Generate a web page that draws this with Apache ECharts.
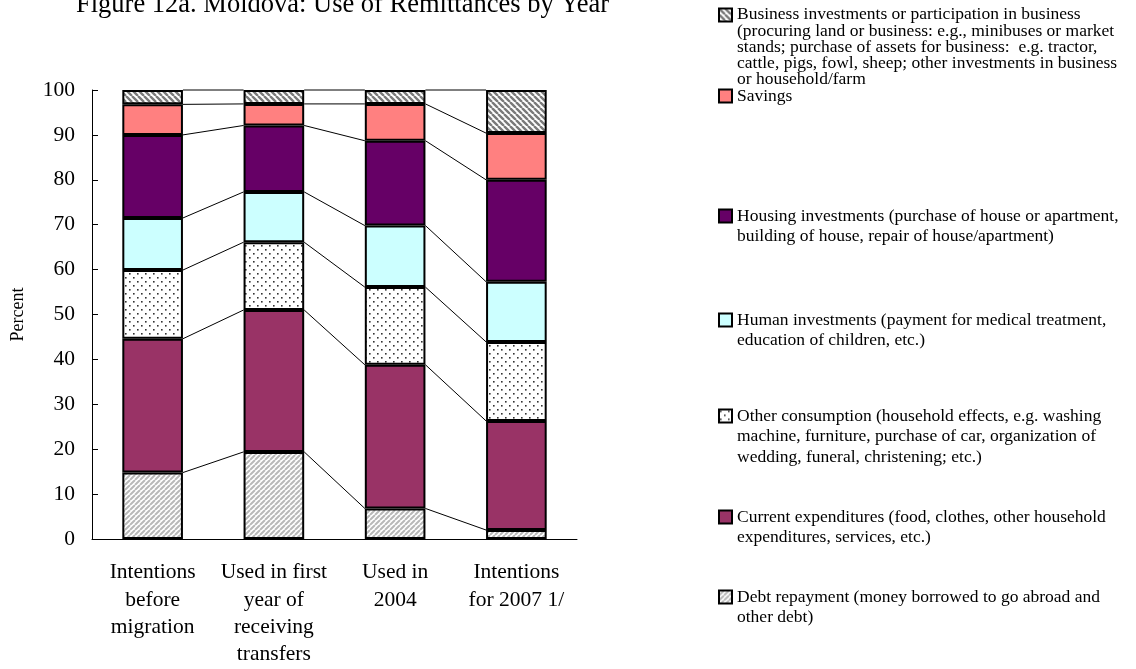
<!DOCTYPE html>
<html>
<head>
<meta charset="utf-8">
<script src="https://cdn.jsdelivr.net/npm/echarts@6/dist/echarts.min.js"></script>
<style>
html,body{margin:0;padding:0;background:#fff;}
#chart{width:1136px;height:669px;}
</style>
</head>
<body>
<div id="chart"></div>
<script>
var categories = ['Intentions\nbefore\nmigration', 'Used in first\nyear of\nreceiving\ntransfers', 'Used in\n2004', 'Intentions\nfor 2007 1/'];
var debt     = [14.8, 19.4, 6.8, 2.0];
var current  = [29.8, 31.6, 32.0, 24.3];
var other    = [15.3, 15.1, 17.3, 17.6];
var human    = [11.6, 11.2, 13.7, 13.4];
var housing  = [18.5, 14.8, 18.9, 22.7];
var savings  = [6.8, 4.8, 8.2, 10.4];
var business = [3.2, 3.1, 3.1, 9.6];
var yTicks = [0, 10, 20, 30, 40, 50, 60, 70, 80, 90, 100];

var names = {
  business: 'Business investments or participation in business\n(procuring land or business: e.g., minibuses or market\nstands; purchase of assets for business:  e.g. tractor,\ncattle, pigs, fowl, sheep; other investments in business\nor household/farm',
  savings: 'Savings',
  housing: 'Housing investments (purchase of house or apartment,\nbuilding of house, repair of house/apartment)',
  human: 'Human investments (payment for medical treatment,\neducation of children, etc.)',
  other: 'Other consumption (household effects, e.g. washing\nmachine, furniture, purchase of car, organization of\nwedding, funeral, christening; etc.)',
  current: 'Current expenditures (food, clothes, other household\nexpenditures, services, etc.)',
  debt: 'Debt repayment (money borrowed to go abroad and\nother debt)'
};

function stripes(size, fg, lw, dir) {
  var c = document.createElement('canvas');
  c.width = size; c.height = size;
  var g = c.getContext('2d');
  g.fillStyle = '#fff'; g.fillRect(0, 0, size, size);
  g.strokeStyle = fg; g.lineWidth = lw;
  g.beginPath();
  for (var k = -1; k <= 1; k++) {
    if (dir === '/') { g.moveTo(k * size, size); g.lineTo(k * size + size, 0); }
    else { g.moveTo(k * size, 0); g.lineTo(k * size + size, size); }
  }
  g.stroke();
  return { image: c, repeat: 'repeat' };
}
function dots() {
  var c = document.createElement('canvas');
  c.width = 8; c.height = 8;
  var g = c.getContext('2d');
  g.fillStyle = '#fff'; g.fillRect(0, 0, 8, 8);
  g.fillStyle = '#333';
  g.fillRect(1, 1, 1.6, 1.6);
  g.fillRect(5, 5, 1.6, 1.6);
  return { image: c, repeat: 'repeat' };
}

var FONT = 'Liberation Serif, Times New Roman, serif';
var seriesDefs = [
  { key: 'debt', data: debt, color: stripes(5, '#b8b8b8', 2, '/') },
  { key: 'current', data: current, color: '#993366' },
  { key: 'other', data: other, color: dots() },
  { key: 'human', data: human, color: '#CCFFFF' },
  { key: 'housing', data: housing, color: '#660066' },
  { key: 'savings', data: savings, color: '#FF8080' },
  { key: 'business', data: business, color: stripes(6, '#7a7a7a', 2.4, '\\') }
];

var series = seriesDefs.map(function (s) {
  return {
    name: names[s.key],
    type: 'bar',
    stack: 'all',
    barWidth: '50%',
    data: s.data,
    itemStyle: { color: s.color, borderColor: '#000', borderWidth: 2 },
    emphasis: { disabled: true },
    z: 3
  };
});

// connector lines between bars at each cumulative boundary
var connData = [];
(function () {
  var cum = categories.map(function () { return 0; });
  seriesDefs.forEach(function (s) {
    cum = cum.map(function (v, i) { return v + s.data[i]; });
    for (var i = 0; i < categories.length - 1; i++) {
      connData.push([i, cum[i], cum[i + 1]]);
    }
  });
})();
series.push({
  type: 'custom',
  silent: true,
  z: 2,
  data: connData,
  encode: { x: 0, y: 1 },
  renderItem: function (params, api) {
    var i = api.value(0);
    var p1 = api.coord([i, api.value(1)]);
    var p2 = api.coord([i + 1, api.value(2)]);
    var half = api.size([1, 0])[0] * 0.25;
    return {
      type: 'line',
      shape: { x1: p1[0] + half, y1: p1[1], x2: p2[0] - half, y2: p2[1] },
      style: { stroke: '#000', lineWidth: 1 }
    };
  }
});

// legends: one per series, icon aligned with first text line
var legendOrder = [
  { key: 'business', first: 14, lh: 16.2 },
  { key: 'savings', first: 96, lh: 20 },
  { key: 'housing', first: 216, lh: 20 },
  { key: 'human', first: 320, lh: 20 },
  { key: 'other', first: 416, lh: 20.8 },
  { key: 'current', first: 517, lh: 20 },
  { key: 'debt', first: 597, lh: 20 }
];
var legends = legendOrder.map(function (l) {
  var n = names[l.key].split('\n').length;
  var blank = new Array(n).join('\n');
  return {
    data: [names[l.key]],
    left: 718,
    top: l.first - (2 * n - 1) * l.lh / 2,
    padding: 0,
    orient: 'vertical',
    icon: 'rect',
    itemWidth: 13,
    itemHeight: 13,
    selectedMode: false,
    formatter: function (name) { return blank + name; },
    textStyle: {
      fontFamily: FONT, fontSize: 17.5, color: '#000', lineHeight: l.lh
    }
  };
});

var chart = echarts.init(document.getElementById('chart'), null, { renderer: 'canvas' });
chart.setOption({
  animation: false,
  backgroundColor: '#fff',
  grid: { left: 92, right: 559, top: 90, bottom: 130, containLabel: false },
  legend: legends,
  graphic: [{
    type: 'text', left: 76, top: -8,
    style: { text: 'Figure 12a. Moldova: Use of Remittances by Year', font: '26.5px ' + FONT, fill: '#000' }
  }],
  xAxis: {
    type: 'category',
    data: categories,
    axisLine: { lineStyle: { color: '#000', width: 1 } },
    axisTick: { inside: true, length: 7, lineStyle: { color: '#000' } },
    axisLabel: { interval: 0, fontFamily: FONT, fontSize: 21.5, lineHeight: 27.3, color: '#000', margin: 20 },
    splitLine: { show: false }
  },
  yAxis: {
    type: 'value',
    min: 0, max: 100, interval: 10,
    name: 'Percent',
    nameLocation: 'middle',
    nameRotate: 90,
    nameGap: 65,
    nameTextStyle: { fontFamily: FONT, fontSize: 18, color: '#000' },
    axisLine: { show: true, lineStyle: { color: '#000', width: 1 } },
    axisTick: { show: true, inside: true, length: 6, lineStyle: { color: '#000' } },
    axisLabel: {
      fontFamily: FONT, fontSize: 21.5, color: '#000', margin: 17,
      formatter: function (v) { return yTicks.indexOf(v) >= 0 ? String(v) : ''; }
    },
    splitLine: { show: false }
  },
  series: series
});
</script>
</body>
</html>
